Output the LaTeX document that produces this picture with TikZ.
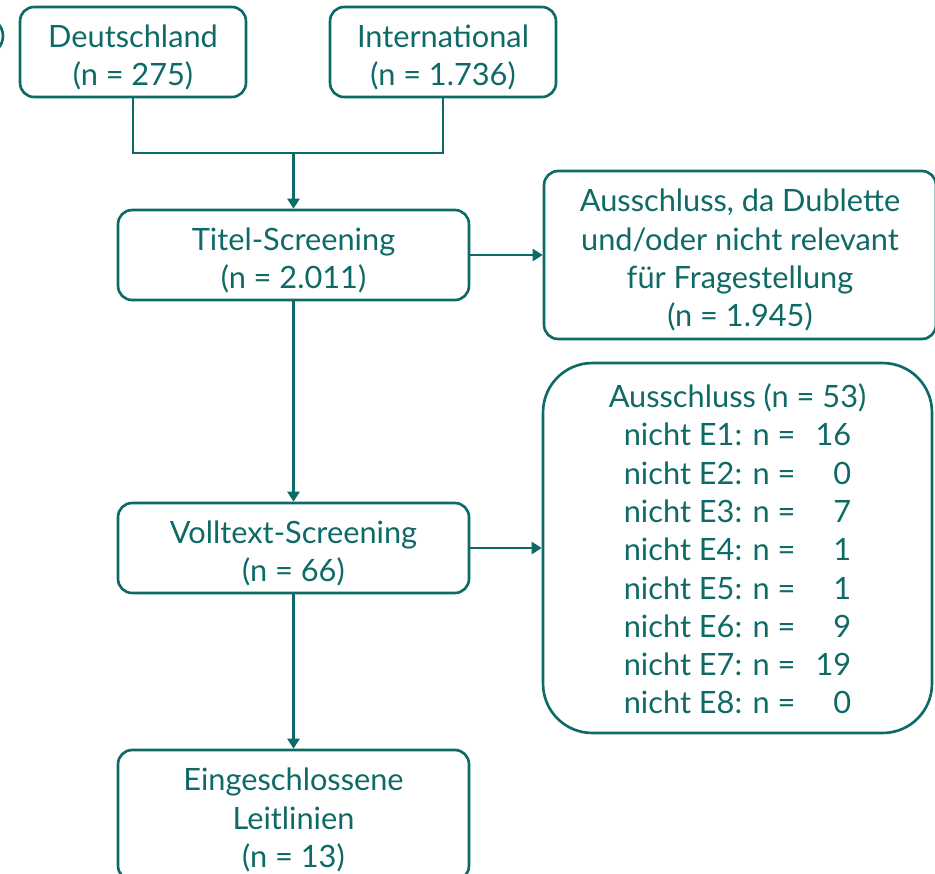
\documentclass[tikz,border=0pt]{standalone}
\usepackage{fontspec}
\setmainfont{Lato}
\usetikzlibrary{arrows.meta}
\definecolor{petrol}{HTML}{0E6A66}
\newcommand{\topstrut}{\rule{0pt}{18.8pt}}

\begin{document}
\begin{tikzpicture}[x=0.02cm,y=-0.02cm,
	box/.style={draw=petrol, line width=1.5pt, rounded corners=8pt, text=petrol,
		align=center, inner sep=0pt, font=\fontsize{17.5}{21.8}\selectfont},
	arr/.style={draw=petrol, line width=1.5pt, -{Triangle[length=0.2cm,width=0.24cm]}},
	line/.style={draw=petrol, line width=1.5pt}]
	
	% Rahmen des Bildes
	\useasboundingbox (0,0) rectangle (935,873);
	\clip (0,0) rectangle (935,873);
	
	% angeschnittener Kreis links
	\draw[line] (-15,36) circle (18);
	
	% Quellen oben
	\node[box, minimum width=4.52cm, minimum height=1.8cm] (deu) at (133,52) {\topstrut Deutschland\\(n = 275)};
	\node[box, minimum width=4.52cm, minimum height=1.8cm] (int) at (443,52) {\topstrut International\\(n = 1.736)};
	
	% Screening-Stufen
	\node[box, minimum width=7.02cm, minimum height=1.8cm] (titel) at (293.5,255) {\topstrut Titel-Screening\\(n = 2.011)};
	\node[box, minimum width=7.02cm, minimum height=1.8cm] (voll) at (293.5,548) {\topstrut Volltext-Screening\\(n = 66)};
	\node[box, minimum width=7.02cm, minimum height=2.6cm] (einge) at (293.5,815) {\topstrut Eingeschlossene\\Leitlinien\\(n = 13)};
	
	% Ausschluesse rechts
	\node[box, minimum width=7.84cm, minimum height=3.36cm] (aus1) at (740,255)
		{\topstrut Ausschluss, da Dublette\\und/oder nicht relevant\\für Fragestellung\\(n = 1.945)};
	\node[box, rounded corners=28pt, minimum width=7.78cm, minimum height=7.4cm] (aus2) at (737.5,548)
		{\begin{tabular}{@{}l@{\hspace{0.4cm}}r@{}}
			\multicolumn{2}{@{}c@{}}{\makebox[0pt]{\rule{0pt}{21pt}Ausschluss (n = 53)}}\\
			nicht E1: n = & 16\\
			nicht E2: n = & 0\\
			nicht E3: n = & 7\\
			nicht E4: n = & 1\\
			nicht E5: n = & 1\\
			nicht E6: n = & 9\\
			nicht E7: n = & 19\\
			nicht E8: n = & 0
		\end{tabular}};
	
	% Verbindungen
	\coordinate (merge) at (293.5,153);
	\draw[line] (deu.south) |- (merge) -| (int.south);
	\draw[arr] (merge) -- (titel.north);
	\draw[arr] (titel.east) -- (aus1.west);
	\draw[arr] (titel.south) -- (voll.north);
	\draw[arr] (voll.east) -- (aus2.west);
	\draw[arr] (voll.south) -- (einge.north);
	
\end{tikzpicture}
\end{document}
